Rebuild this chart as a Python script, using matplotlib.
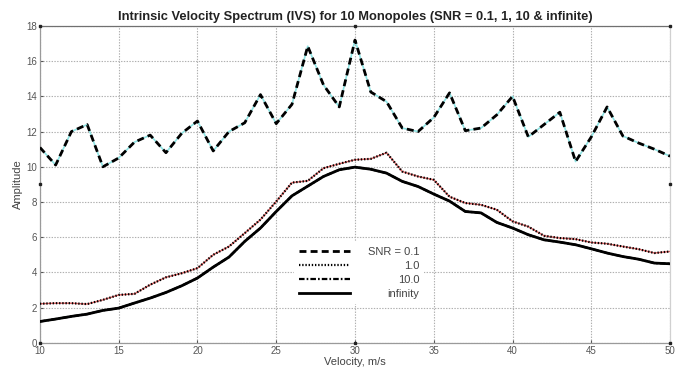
# IVS amplitude vs velocity for 10 monopoles at several SNR
import matplotlib.pyplot as plt
import numpy as np

plt.rcParams['font.family'] = ['Liberation Sans', 'DejaVu Sans']
plt.rcParams['lines.scale_dashes'] = False

# velocity in m/s, one value per 1 m/s
velocity = list(range(10, 51))

snr_01 = [11.1, 10.1, 12.0, 12.4, 10.0, 10.5, 11.4, 11.8, 10.8, 11.9,
          12.6, 10.9, 12.0, 12.5, 14.1, 12.45, 13.55, 16.85, 14.65, 13.4,
          17.2, 14.25, 13.7, 12.2, 12.0, 12.8, 14.2, 12.05, 12.2, 12.95,
          14.0, 11.7, 12.4, 13.1, 10.3, 11.7, 13.4, 11.75, 11.35, 11.0,
          10.6]

snr_1 = [2.22, 2.25, 2.25, 2.2, 2.44, 2.72, 2.78, 3.3, 3.72, 3.95,
         4.24, 5.0, 5.47, 6.23, 7.0, 8.03, 9.1, 9.2, 9.92, 10.17,
         10.4, 10.45, 10.8, 9.73, 9.45, 9.26, 8.3, 7.94, 7.84, 7.56,
         6.9, 6.6, 6.08, 5.95, 5.89, 5.7, 5.63, 5.47, 5.32, 5.1,
         5.19]

snr_inf = [1.21, 1.35, 1.5, 1.63, 1.84, 1.97, 2.26, 2.54, 2.86, 3.24,
           3.68, 4.3, 4.87, 5.76, 6.52, 7.46, 8.35, 8.9, 9.45, 9.83,
           9.98, 9.86, 9.64, 9.17, 8.88, 8.45, 8.05, 7.46, 7.38, 6.84,
           6.52, 6.14, 5.85, 5.72, 5.57, 5.34, 5.1, 4.9, 4.75, 4.53,
           4.49]

# SNR = 10 lies under the noise-free curve
snr_10 = snr_inf

labels = ['SNR = 0.1', '1.0', '10.0', 'infinity']

fig = plt.figure(figsize=(6.88, 3.71), dpi=100)
ax = fig.add_axes([0.058, 0.076, 0.916, 0.854])

# thin coloured traces underneath, black styled lines on top
ax.plot(velocity, snr_01, color='#8fe3e3', lw=1.2, zorder=2)
ax.plot(velocity, snr_1, color='#e06060', lw=1.0, zorder=2)
ax.plot(velocity, snr_inf, color='#30c030', lw=1.0, zorder=2)

l1, = ax.plot(velocity, snr_01, color='black', lw=2.0, dashes=(5, 3), zorder=3)
l2, = ax.plot(velocity, snr_1, color='black', lw=1.6, dashes=(1.0, 1.3), zorder=3)
l3, = ax.plot(velocity, snr_10, color='black', lw=1.6, dashes=(4, 1.5, 1.2, 1.5), zorder=3)
l4, = ax.plot(velocity, snr_inf, color='black', lw=2.0, zorder=4)

ax.set_xlim(10, 50)
ax.set_ylim(0, 18)
ax.set_xticks(np.arange(10, 51, 5))
ax.set_yticks(np.arange(0, 19, 2))
ax.grid(True, color='#b0b0b0', linestyle=(0, (1, 1)), lw=0.8)
ax.tick_params(labelsize=7, colors='#555555', direction='in', length=2, pad=2)
for s in ax.spines.values():
    s.set_color('#9a9a9a')
    s.set_linewidth(0.9)
ax.spines['right'].set_color('#d0d0d0')
ax.spines['top'].set_color('#707070')

# small corner markers
mx = [10, 30, 50, 10, 50, 10, 30, 50]
my = [18, 18, 18, 9, 9, 0, 0, 0]
ax.plot(mx, my, 's', color='#222222', ms=2, clip_on=False, zorder=5)

ax.set_title('Intrinsic Velocity Spectrum (IVS) for 10 Monopoles (SNR = 0.1, 1, 10 & infinite)',
             fontsize=9.3, fontweight='bold', color='#222222', pad=4)
ax.set_xlabel('Velocity, m/s', fontsize=8, color='#444444', labelpad=1)
ax.set_ylabel('Amplitude', fontsize=8, color='#444444', labelpad=2)

leg = ax.legend([l1, l2, l3, l4], labels, loc='upper left',
                bbox_to_anchor=(0.395, 0.335), frameon=True, fontsize=8,
                handlelength=4.6, handletextpad=1.6, labelspacing=0.38,
                borderpad=0.4)
leg.get_frame().set_edgecolor('none')
leg.get_frame().set_facecolor('white')
leg.get_frame().set_alpha(1)
leg.set_zorder(6)
# legend labels are right aligned: take the packed positions, redraw aligned
fig.canvas.draw()
exts = [t.get_window_extent() for t in leg.get_texts()]
right = max(e.x1 for e in exts)
inv = ax.transAxes.inverted()
for t, e in zip(leg.get_texts(), exts):
    x, y = inv.transform((right, (e.y0 + e.y1) / 2))
    ax.text(x, y, t.get_text(), transform=ax.transAxes, ha='right', va='center',
            fontsize=8, color='#444444', zorder=7)
    t.set_visible(False)

fig.savefig('out.png', dpi=100)
